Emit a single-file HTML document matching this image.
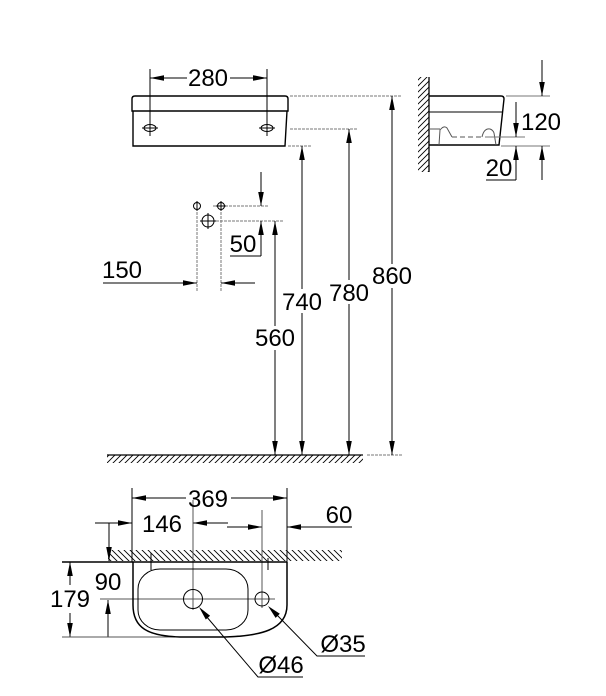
<!DOCTYPE html>
<html><head><meta charset="utf-8"><style>
html,body{margin:0;padding:0;background:#fff;}
svg{display:block;}
text{font-family:"Liberation Sans",Arial,sans-serif;font-size:24px;fill:#000;text-anchor:middle;}
</style></head><body>
<svg width="606" height="696" viewBox="0 0 606 696" xmlns="http://www.w3.org/2000/svg">
<defs>
<pattern id="hf" width="6" height="6" patternUnits="userSpaceOnUse"><path d="M-1,1 l2,-2 M0,6 l6,-6 M5,7 l2,-2" stroke="#000" stroke-width="0.9"/></pattern>
<pattern id="hb" width="6" height="6" patternUnits="userSpaceOnUse"><path d="M-1,5 l2,2 M0,0 l6,6 M5,-1 l2,2" stroke="#000" stroke-width="0.9"/></pattern>
</defs>
<rect width="606" height="696" fill="#fff"/>

<!-- ===== FRONT VIEW ===== -->
<g stroke="#000" fill="none" stroke-width="1">
  <line x1="150" y1="69" x2="150" y2="136"/>
  <line x1="267" y1="69" x2="267" y2="136"/>
  <line x1="150" y1="78" x2="187" y2="78"/>
  <line x1="230" y1="78" x2="267" y2="78"/>
  <path d="M132,111 L132,99 Q132,96 135,96 L285,96 Q288,96 288,99 L288,111 Z" stroke-width="1.4"/>
  <path d="M133,111 L133,146 L285,146 L287,111" stroke-width="1.4"/>
  <ellipse cx="150" cy="128" rx="6" ry="3.5"/>
  <ellipse cx="267" cy="128" rx="6" ry="3.5"/>
  <line x1="142" y1="128" x2="158" y2="128"/>
  <line x1="259" y1="128" x2="275" y2="128"/>
</g>
<g fill="#000">
  <polygon points="150,78 164,75.2 164,80.8"/>
  <polygon points="267,78 253,75.2 253,80.8"/>
</g>
<text x="208" y="86">280</text>

<g stroke="#777" stroke-width="1" stroke-dasharray="3,1" fill="none">
  <line x1="290" y1="96" x2="402" y2="96"/>
  <line x1="290" y1="129" x2="358" y2="129"/>
  <line x1="288" y1="146" x2="311" y2="146"/>
  <line x1="200" y1="221" x2="283" y2="221"/>
  <line x1="213" y1="206" x2="268" y2="206"/>
  <line x1="197" y1="212" x2="197" y2="292"/>
  <line x1="221" y1="212" x2="221" y2="292"/>
  <line x1="367" y1="455" x2="402" y2="455"/>
</g>

<g stroke="#000" stroke-width="1">
  <line x1="302" y1="146" x2="302" y2="455"/>
  <line x1="349" y1="129" x2="349" y2="455"/>
  <line x1="392" y1="96" x2="392" y2="455"/>
  <line x1="275" y1="221" x2="275" y2="455"/>
</g>
<g fill="#000">
  <polygon points="302,146 299.2,160 304.8,160"/>
  <polygon points="349,129 346.2,143 351.8,143"/>
  <polygon points="392,96 389.2,110 394.8,110"/>
  <polygon points="275,221 272.2,235 277.8,235"/>
  <polygon points="302,455 299.2,441 304.8,441"/>
  <polygon points="349,455 346.2,441 351.8,441"/>
  <polygon points="392,455 389.2,441 394.8,441"/>
  <polygon points="275,455 272.2,441 277.8,441"/>
</g>
<g fill="#fff">
  <rect x="280" y="289" width="44" height="24"/>
  <rect x="327" y="280" width="44" height="24"/>
  <rect x="370" y="264" width="44" height="24"/>
  <rect x="253" y="326" width="44" height="24"/>
</g>
<text x="302" y="310">740</text>
<text x="349" y="301">780</text>
<text x="392" y="284">860</text>
<text x="275" y="346">560</text>

<rect x="107" y="455" width="256" height="8" fill="url(#hf)"/>
<line x1="107" y1="455" x2="363" y2="455" stroke="#000" stroke-width="1.2"/>

<!-- ===== MIDDLE ===== -->
<g stroke="#000" stroke-width="1" fill="none">
  <circle cx="197" cy="206" r="3.5"/>
  <line x1="197" y1="201" x2="197" y2="211"/>
  <circle cx="221" cy="206" r="3.5"/>
  <line x1="216" y1="206" x2="226" y2="206"/>
  <line x1="221" y1="201" x2="221" y2="211"/>
  <circle cx="208" cy="221" r="6"/>
  <line x1="200" y1="221" x2="216" y2="221"/>
  <line x1="208" y1="213" x2="208" y2="229"/>
  <line x1="103" y1="283" x2="197" y2="283"/>
  <line x1="221" y1="283" x2="255" y2="283"/>
  <line x1="261" y1="172" x2="261" y2="206"/>
  <line x1="261" y1="221" x2="261" y2="256"/>
  <line x1="230" y1="256" x2="261" y2="256"/>
</g>
<g fill="#000">
  <polygon points="197,283 183,280.2 183,285.8"/>
  <polygon points="221,283 235,280.2 235,285.8"/>
  <polygon points="261,206 258.2,192 263.8,192"/>
  <polygon points="261,221 258.2,235 263.8,235"/>
</g>
<text x="122" y="278">150</text>
<text x="243" y="252">50</text>

<!-- ===== SIDE VIEW ===== -->
<rect x="418" y="77" width="11" height="95" fill="url(#hf)"/>
<line x1="429" y1="77" x2="429" y2="172" stroke="#000" stroke-width="1.3"/>
<g stroke="#000" fill="none" stroke-width="1.4">
  <path d="M429,96 L501,96 Q504,96 504,99 L499,145 L429,145"/>
  <line x1="429" y1="112" x2="502" y2="112" stroke-width="1"/>
</g>
<g stroke="#555" fill="none" stroke-width="1">
  <line x1="429" y1="129" x2="440" y2="129"/>
  <path d="M439,145 L440,130 Q444,125 447,128 L452,137"/>
  <line x1="452" y1="137" x2="482" y2="137" stroke-dasharray="5,3"/>
  <path d="M482,137 Q484,128 490,129 Q493,130 494,133 L496,145"/>
</g>
<g stroke="#777" stroke-width="1" fill="none">
  <line x1="506" y1="96" x2="550" y2="96"/>
  <line x1="501" y1="146" x2="550" y2="146"/>
  <line x1="485" y1="137" x2="525" y2="137"/>
</g>
<g stroke="#000" stroke-width="1" fill="none">
  <line x1="542" y1="60" x2="542" y2="96"/>
  <line x1="542" y1="146" x2="542" y2="180"/>
  <line x1="516" y1="102" x2="516" y2="137"/>
  <line x1="516" y1="146" x2="516" y2="180"/>
  <line x1="486" y1="180" x2="516" y2="180"/>
</g>
<g fill="#000">
  <polygon points="542,96 539.2,82 544.8,82"/>
  <polygon points="542,146 539.2,160 544.8,160"/>
  <polygon points="516,137 513.2,123 518.8,123"/>
  <polygon points="516,146 513.2,160 518.8,160"/>
</g>
<text x="541" y="130">120</text>
<text x="499" y="176">20</text>

<!-- ===== PLAN VIEW ===== -->
<rect x="108" y="550" width="234" height="11" fill="url(#hb)"/>
<g stroke="#000" stroke-width="1" fill="none">
  <line x1="132" y1="488" x2="132" y2="562"/>
  <line x1="287" y1="488" x2="287" y2="562"/>
  <line x1="132" y1="498" x2="186" y2="498"/>
  <line x1="231" y1="498" x2="287" y2="498"/>
  <line x1="95" y1="523" x2="132" y2="523"/>
  <line x1="109" y1="523" x2="109" y2="561"/>
  <line x1="193" y1="523" x2="228" y2="523"/>
  <line x1="227" y1="527" x2="262" y2="527"/>
  <line x1="287" y1="527" x2="352" y2="527"/>
  <line x1="70" y1="562" x2="70" y2="585"/>
  <line x1="70" y1="613" x2="70" y2="637"/>
  <line x1="108" y1="600" x2="108" y2="637"/>
  <line x1="151" y1="553" x2="151" y2="570"/>
  <line x1="268" y1="558" x2="268" y2="570"/>
</g>
<g stroke="#555" stroke-width="1" fill="none">
  <line x1="193" y1="500" x2="193" y2="610"/>
  <line x1="262" y1="510" x2="262" y2="608"/>
  <line x1="62" y1="637" x2="228" y2="637"/>
  <line x1="100" y1="599" x2="275" y2="599"/>
</g>
<line x1="62" y1="562" x2="287" y2="562" stroke="#000" stroke-width="1.4"/>
<g stroke="#000" fill="none">
  <path d="M133,562 L133,605 C133,628 148,636 180,637 L225,637 C260,636 287,630 287,605 L287,562" stroke-width="1.5"/>
  <rect x="138" y="569" width="110" height="61" rx="22" ry="20" stroke-width="1"/>
  <circle cx="193" cy="599" r="9.5" stroke-width="1"/>
  <circle cx="262" cy="599" r="7" stroke-width="1"/>
  <path d="M206,616 L258,677 L303,677" stroke-width="1"/>
  <path d="M276,614 L317,656 L365,656" stroke-width="1"/>
</g>
<g fill="#000">
  <polygon points="132,498 146,495.2 146,500.8"/>
  <polygon points="287,498 273,495.2 273,500.8"/>
  <polygon points="132,523 118,520.2 118,525.8"/>
  <polygon points="193,523 207,520.2 207,525.8"/>
  <polygon points="109,561 106.2,547 111.8,547"/>
  <polygon points="262,527 248,524.2 248,529.8"/>
  <polygon points="287,527 301,524.2 301,529.8"/>
  <polygon points="70,562 67.2,576 72.8,576"/>
  <polygon points="70,637 67.2,623 72.8,623"/>
  <polygon points="108,600 105.2,614 110.8,614"/>
  <polygon points="199,607 210.1,615.8 205.8,619.5"/>
  <polygon points="268,606 279.8,613.8 275.6,617.9"/>
</g>
<text x="208" y="507">369</text>
<text x="162" y="532">146</text>
<text x="339" y="523">60</text>
<text x="70" y="607">179</text>
<text x="108" y="590">90</text>
<text x="281" y="673">Ø46</text>
<text x="343" y="652">Ø35</text>
</svg>
</body></html>
